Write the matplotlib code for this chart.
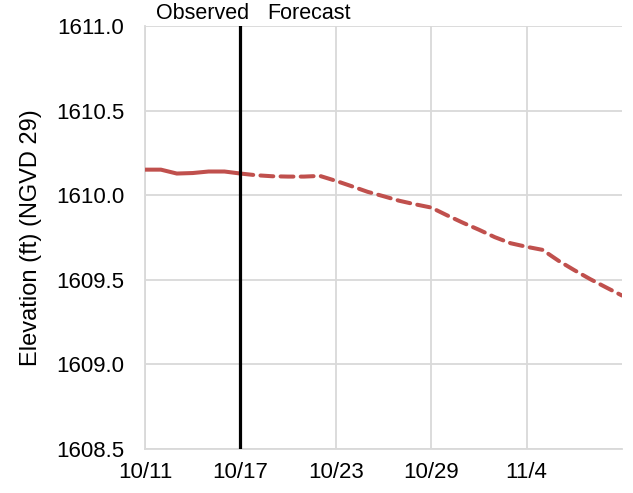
import matplotlib
matplotlib.use("Agg")
import matplotlib.pyplot as plt
import pandas as pd

plt.rcParams['font.family'] = ['Liberation Sans', 'DejaVu Sans']

obs_dates = pd.date_range("2023-10-11", "2023-10-17", freq="D")
obs_vals = [1610.151, 1610.151, 1610.128, 1610.131, 1610.140, 1610.140, 1610.128]

fc_dates = pd.date_range("2023-10-17", "2023-11-10", freq="D")
fc_vals = [1610.128, 1610.118, 1610.112, 1610.110, 1610.110, 1610.114, 1610.085,
           1610.053, 1610.020, 1609.994, 1609.967, 1609.946, 1609.927, 1609.881,
           1609.837, 1609.796, 1609.752, 1609.716, 1609.695, 1609.677, 1609.613,
           1609.557, 1609.504, 1609.455, 1609.407]

tick_dates = pd.to_datetime(["2023-10-11", "2023-10-17", "2023-10-23", "2023-10-29", "2023-11-04"])
tick_labels = ["10/11", "10/17", "10/23", "10/29", "11/4"]
y_ticks = [1608.5, 1609.0, 1609.5, 1610.0, 1610.5, 1611.0]
divider = pd.Timestamp("2023-10-17")

fig = plt.figure(figsize=(6.33, 4.93), dpi=100)
ax = fig.add_axes([145/633, 44/493, (622-145)/633, (449-26)/493])

red = "#C0504D"
grid = "#D9D9D9"

ax.plot(obs_dates, obs_vals, color=red, lw=2.9, solid_capstyle="round", zorder=3)
ax.plot(fc_dates, fc_vals, color=red, lw=2.9, linestyle=(0, (3.2, 1.8)),
        dash_capstyle="round", zorder=3)
ax.axvline(divider, color="black", lw=2.3, zorder=4)

ax.set_xlim(pd.Timestamp("2023-10-11"), pd.Timestamp("2023-11-10"))
ax.set_ylim(1608.5, 1611.0)
ax.set_xticks(tick_dates)
ax.set_xticklabels(tick_labels)
ax.set_yticks(y_ticks)
ax.set_yticklabels([f"{v:.1f}" for v in y_ticks])

ax.grid(True, color=grid, lw=1.3, zorder=0)
ax.set_axisbelow(True)
for s in ["top", "right"]:
    ax.spines[s].set_visible(False)
for s in ["left", "bottom"]:
    ax.spines[s].set_color(grid)
    ax.spines[s].set_linewidth(1.3)

ax.tick_params(axis="both", length=0, labelsize=16, colors="black")
ax.tick_params(axis="y", pad=15)
ax.tick_params(axis="x", pad=9)

ax.set_ylabel("Elevation (ft) (NGVD 29)", fontsize=17)
ax.yaxis.set_label_coords((42 - 145) / 477, 0.5)

ax.annotate("Observed", xy=(divider, 1611.0), xytext=(-61, 1.5), textcoords="offset points",
            ha="left", va="bottom", fontsize=15.5, annotation_clip=False)
ax.annotate("Forecast", xy=(divider, 1611.0), xytext=(19, 1.5), textcoords="offset points",
            ha="left", va="bottom", fontsize=15.5, annotation_clip=False)

fig.savefig("out.png", dpi=100)
